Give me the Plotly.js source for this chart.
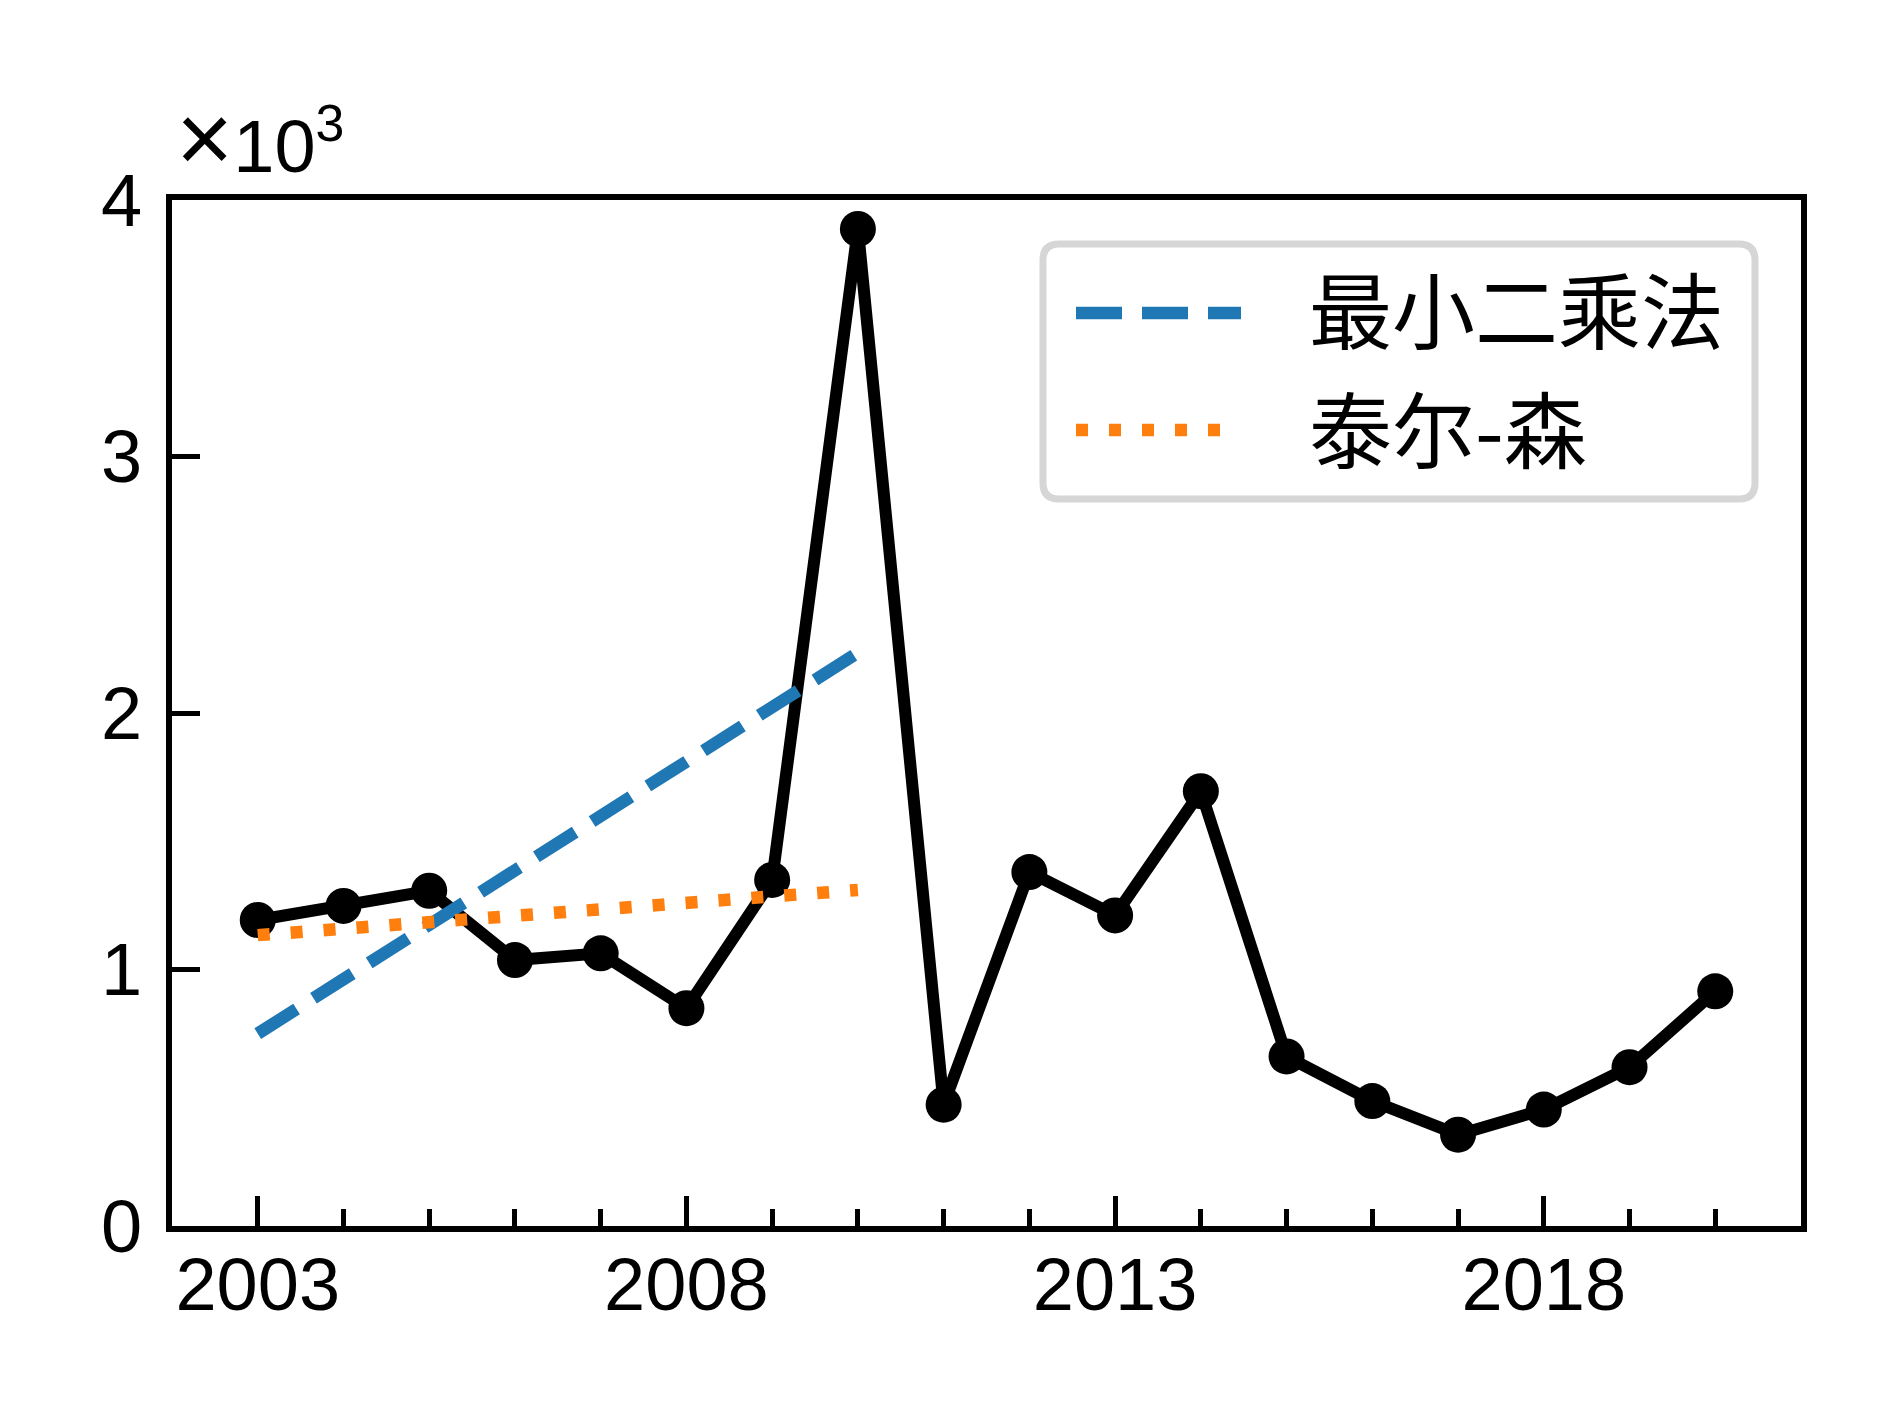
<!DOCTYPE html>
<html><head><meta charset="utf-8">
<script src="https://cdn.plot.ly/plotly-3.0.1.min.js"></script>
<style>html,body{margin:0;padding:0;background:#fff}</style>
</head><body><div id="chart" style="width:1889px;height:1417px"></div>
<script>
// ---- data (values in thousands) ----
const years = [2003,2004,2005,2006,2007,2008,2009,2010,2011,2012,2013,2014,2015,2016,2017,2018,2019,2020];
const values = [1.193,1.248,1.307,1.037,1.063,0.849,1.349,3.887,0.473,1.380,1.211,1.695,0.661,0.487,0.356,0.454,0.619,0.915];
const fitYears = [2003, 2010];
const leastSquares = [0.75, 2.235];
const theilSen = [1.134, 1.31];
const seriesNames = ['最小二乘法', '泰尔-森'];
const xTickVals = [2003, 2008, 2013, 2018];
const xTickText = ['2003', '2008', '2013', '2018'];
const yTickVals = [0, 1, 2, 3, 4];
const yTickText = ['0', '1', '2', '3', '4'];
const scaleLabel = '<span style="font-size:98px">×</span>10<sup>3</sup>';

// ---- layout geometry ----
const W = 1889, H = 1417, L = 172, R = 1801, T = 200, B = 1226;
const px = x => (x - L) / (R - L);
const py = y => (B - y) / (B - T);
const BLUE = '#1f77b4', ORANGE = '#ff7f0e';
const tickFont = {family: 'Liberation Sans, Arial, sans-serif', size: 74, color: '#000'};
const cjkFont = {family: 'Noto Sans CJK SC, sans-serif', size: 83, color: '#000'};

function roundRect(x0, y0, x1, y1, r) {
  const P = (x, y) => px(x).toFixed(5) + ',' + py(y).toFixed(5);
  return 'M' + P(x0 + r, y0) + ' L' + P(x1 - r, y0) + ' Q' + P(x1, y0) + ' ' + P(x1, y0 + r) +
    ' L' + P(x1, y1 - r) + ' Q' + P(x1, y1) + ' ' + P(x1 - r, y1) +
    ' L' + P(x0 + r, y1) + ' Q' + P(x0, y1) + ' ' + P(x0, y1 - r) +
    ' L' + P(x0, y0 + r) + ' Q' + P(x0, y0) + ' ' + P(x0 + r, y0) + ' Z';
}

const traces = [
  {x: years, y: values, type: 'scatter', mode: 'lines+markers', showlegend: false,
   line: {color: '#000', width: 12}, marker: {size: 36, color: '#000'}, cliponaxis: false},
  {x: fitYears, y: leastSquares, type: 'scatter', mode: 'lines', name: seriesNames[0], showlegend: false,
   line: {color: BLUE, width: 12.5, dash: '46px,20px'}},
  {x: fitYears, y: theilSen, type: 'scatter', mode: 'lines', name: seriesNames[1], showlegend: false,
   line: {color: ORANGE, width: 12.5, dash: '12px,21px'}}
];

const axisCommon = {
  showline: true, linewidth: 6, linecolor: '#000', mirror: true,
  showgrid: false, zeroline: false, ticks: 'inside', tickwidth: 5, tickcolor: '#000',
  tickfont: tickFont, tickmode: 'array'
};

const layout = {
  width: W, height: H,
  margin: {l: L, r: W - R, t: T, b: H - B, pad: 0},
  paper_bgcolor: '#fff', plot_bgcolor: '#fff',
  showlegend: false,
  xaxis: Object.assign({}, axisCommon, {
    range: [2002, 2021], tickvals: xTickVals, ticktext: xTickText, ticklen: 30,
    ticklabelstandoff: -11,
    minor: {tickmode: 'array', tickvals: years, ticks: 'inside', ticklen: 17, tickwidth: 5, tickcolor: '#000', showgrid: false}
  }),
  yaxis: Object.assign({}, axisCommon, {
    range: [0, 4], tickvals: yTickVals, ticktext: yTickText, ticklen: 28,
    ticklabelstandoff: 9
  }),
  shapes: [
    {type: 'path', xref: 'paper', yref: 'paper', layer: 'above',
     path: roundRect(1043, 244, 1755, 499, 16),
     line: {color: '#d6d6d6', width: 7}, fillcolor: '#ffffff'},
    {type: 'line', xref: 'paper', yref: 'paper', layer: 'above',
     x0: px(1076), x1: px(1241), y0: py(313), y1: py(313),
     line: {color: BLUE, width: 12.5, dash: '46px,20px'}},
    {type: 'line', xref: 'paper', yref: 'paper', layer: 'above',
     x0: px(1076), x1: px(1241), y0: py(430), y1: py(430),
     line: {color: ORANGE, width: 12.5, dash: '12px,21px'}}
  ],
  annotations: [
    {xref: 'paper', yref: 'paper', x: px(1307), y: py(307), xanchor: 'left', yanchor: 'middle',
     text: seriesNames[0], showarrow: false, font: cjkFont},
    {xref: 'paper', yref: 'paper', x: px(1307), y: py(426), xanchor: 'left', yanchor: 'middle',
     text: seriesNames[1], showarrow: false, font: cjkFont},
    {xref: 'paper', yref: 'paper', x: px(174), y: py(195), xanchor: 'left', yanchor: 'bottom',
     text: scaleLabel, showarrow: false, font: tickFont}
  ]
};

Plotly.newPlot('chart', traces, layout, {staticPlot: true, displayModeBar: false});
</script>
</body></html>
